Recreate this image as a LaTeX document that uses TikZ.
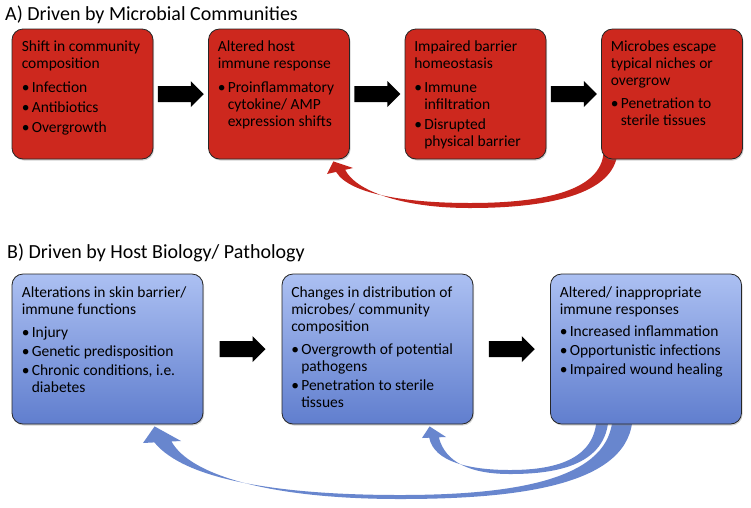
\documentclass[tikz,border=0pt]{standalone}
\usepackage{fontspec}
\setmainfont{Carlito}
\usetikzlibrary{calc,shadows}
\pgfdeclarelayer{bg}
\pgfsetlayers{bg,main}
\definecolor{redfill}{RGB}{205,40,30}
\definecolor{redarr}{RGB}{196,36,28}
\definecolor{bluetop}{RGB}{172,192,242}
\definecolor{bluebot}{RGB}{96,126,206}
\definecolor{bluearr}{RGB}{104,134,206}
\newcommand\bul{\makebox[10pt][l]{\textbullet}}
\newcommand\cont{\hspace*{10pt}}
\newcommand\blockarrow[1]{%
  \fill[black] ($(#1)+(-23,-8)$) -- ($(#1)+(10,-8)$) -- ($(#1)+(10,-13)$) -- ($(#1)+(23,0)$)
    -- ($(#1)+(10,13)$) -- ($(#1)+(10,8)$) -- ($(#1)+(-23,8)$) -- cycle;}
\begin{document}
\begin{tikzpicture}[x=1pt,y=-1pt,
  box/.style={draw=black!85, line width=0.8pt, rounded corners=11pt, inner sep=0pt,
    drop shadow={opacity=0.35,shadow xshift=1pt,shadow yshift=-1.5pt}},
  redbox/.style={box, fill=redfill, minimum width=141pt, minimum height=130pt},
  bluebox/.style={box, top color=bluetop, bottom color=bluebot, minimum width=191pt, minimum height=150pt},
  txt/.style={anchor=north west, inner sep=0pt, align=left, font=\fontsize{15.5}{17}\selectfont},
  ttl/.style={anchor=base west, inner sep=0pt, font=\fontsize{20}{24}\selectfont},
  ]
\useasboundingbox (0,0) rectangle (751,507);

% titles
\node[ttl] (ta) at (5,20) {A) Driven by Microbial Communities};
\node[ttl] (tb) at (7,258) {B) Driven by Host Biology/ Pathology};

% top row
\node[redbox] (a1) at (82.5,94) {};
\node[redbox] (a2) at (279,94) {};
\node[redbox] (a3) at (475.5,94) {};
\node[redbox] (a4) at (672,94) {};

\node[txt] (a1t) at ($(a1.north west)+(10,12)$) {Shift in community\\composition\\[7pt]
  \bul Infection\\[3pt]\bul Antibiotics\\[3pt]\bul Overgrowth};
\node[txt] (a2t) at ($(a2.north west)+(9.5,12)$) {Altered host\\immune response\\[7pt]
  \bul Proinflammatory\\\cont cytokine/ AMP\\\cont expression shifts};
\node[txt] (a3t) at ($(a3.north west)+(9.5,12)$) {Impaired barrier\\homeostasis\\[7pt]
  \bul Immune\\\cont infiltration\\[3pt]\bul Disrupted\\\cont physical barrier};
\node[txt] (a4t) at ($(a4.north west)+(9.5,12)$) {Microbes escape\\typical niches or\\overgrow\\[6pt]
  \bul Penetration to\\\cont sterile tissues};

% bottom row
\node[bluebox] (b1) at (107.5,349) {};
\node[bluebox] (b2) at (377.5,349) {};
\node[bluebox] (b3) at (646,349) {};

\node[txt] (b1t) at ($(b1.north west)+(10,12.5)$) {Alterations in skin barrier/\\immune functions\\[6pt]
  \bul Injury\\[2pt]\bul Genetic predisposition\\[2pt]\bul Chronic conditions, i.e.\\\cont diabetes};
\node[txt] (b2t) at ($(b2.north west)+(9.5,12.5)$) {Changes in distribution of\\microbes/ community\\composition\\[6pt]
  \bul Overgrowth of potential\\\cont pathogens\\[2pt]\bul Penetration to sterile\\\cont tissues};
\node[txt] (b3t) at ($(b3.north west)+(9.5,12.5)$) {Altered/ inappropriate\\immune responses\\[5pt]
  \bul Increased inflammation\\[2pt]\bul Opportunistic infections\\[2pt]\bul Impaired wound healing};

% block arrows
\coordinate (m1) at ($(a1.east)!0.5!(a2.west)$);
\coordinate (m2) at ($(a2.east)!0.5!(a3.west)$);
\coordinate (m3) at ($(a3.east)!0.5!(a4.west)$);
\coordinate (n1) at ($(b1.east)!0.5!(b2.west)$);
\coordinate (n2) at ($(b2.east)!0.5!(b3.west)$);
\blockarrow{m1}
\blockarrow{m2}
\blockarrow{m3}
\blockarrow{n1}
\blockarrow{n2}

% curved feedback arrows
\coordinate (rt1) at ($(a4.south west)+(2.5,-9)$);
\coordinate (rt2) at ($(a4.south west)+(16.5,-9)$);
\coordinate (rh) at ($(a2.south east)+(-16.5,2)$);
\coordinate (bt1) at ($(b3.south west)+(62.5,-9)$);
\coordinate (bt2) at ($(b3.south west)+(82.5,-9)$);
\coordinate (bh) at ($(b1.south west)+(143,2)$);
\coordinate (st1) at ($(b3.south west)+(46.5,-9)$);
\coordinate (st2) at ($(b3.south west)+(58.5,-9)$);
\coordinate (sh) at ($(b2.south west)+(148,2)$);

\begin{pgfonlayer}{bg}
\fill[white] (0,0) rectangle (751,507);
\fill[redarr] (rt1) -- (rt2) .. controls (616,200) and (530,208) .. (470,208)
  .. controls (400,208) and (355,190) .. (345.2,169.8) -- (353,168) -- (rh) -- (327,174)
  -- (336.1,171.9) .. controls (350,195) and (410,203) .. (470,203)
  .. controls (530,203) and (603,195) .. (rt1) -- cycle;
\fill[bluearr] (bt1) -- (bt2) .. controls (632,485) and (520,499) .. (400,499)
  .. controls (270,499) and (190,475) .. (171.5,441.5) -- (181,441) -- (bh) -- (143,443)
  -- (154.4,442.4) .. controls (185,480) and (280,495) .. (400,495)
  .. controls (520,495) and (612,478) .. (bt1) -- cycle;
\fill[bluearr] (st1) -- (st2) .. controls (608,468) and (550,474) .. (510,474)
  .. controls (470,474) and (445,462) .. (438.8,437.3) -- (446,437) -- (sh) -- (422,438)
  -- (429.2,437.7) .. controls (434,462) and (470,470) .. (510,470)
  .. controls (550,470) and (597,462) .. (st1) -- cycle;
\end{pgfonlayer}
\end{tikzpicture}
\end{document}
